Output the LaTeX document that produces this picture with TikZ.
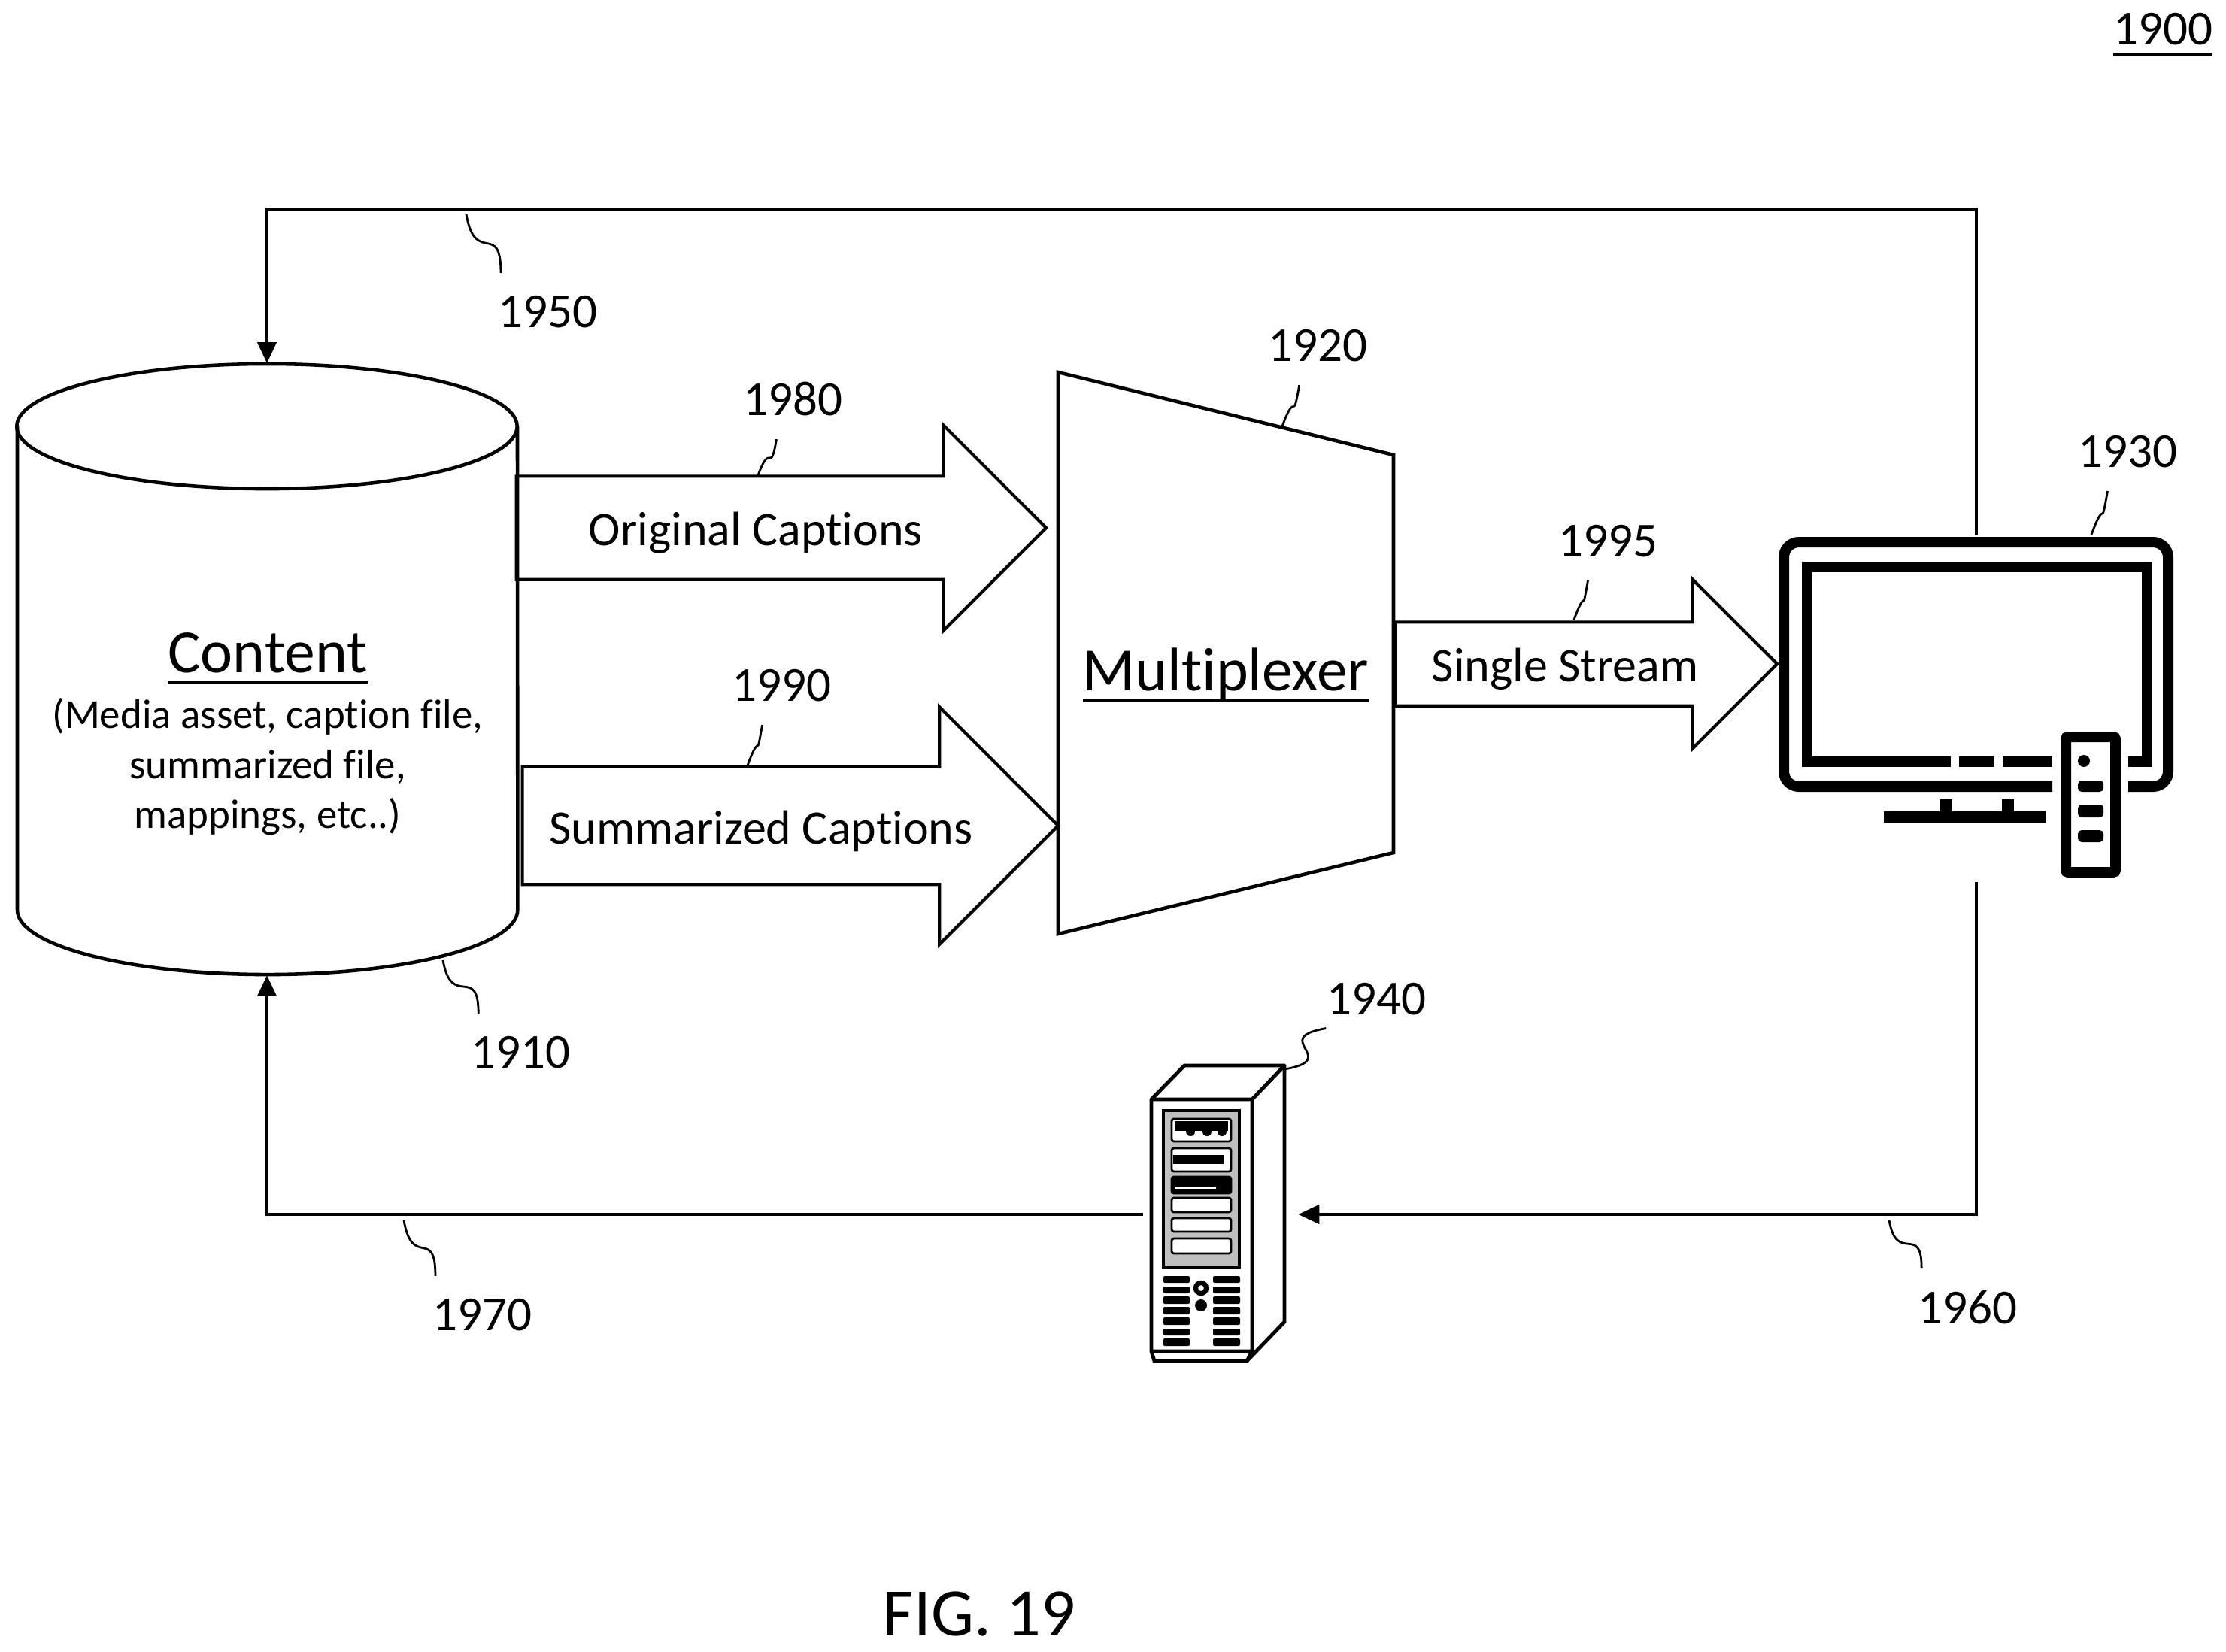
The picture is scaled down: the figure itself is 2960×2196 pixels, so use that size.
\documentclass[tikz,border=0pt]{standalone}
\usepackage{fontspec}
\setmainfont[Ligatures=NoCommon]{Carlito}
\newcommand{\ultxt}[1]{\setbox0=\hbox{#1}\dp0=0pt \vtop{\box0\kern 3pt\hrule height 1.2pt}}
\usetikzlibrary{shapes.arrows,arrows.meta}

\tikzset{
    conn/.style={line width=1.3pt},
    lead/.style={line width=.8pt},
    blockarrow/.style={single arrow,draw,line width=1.2pt,inner xsep=0pt,anchor=tip},
    tag/.style={font=\fontsize{18.5}{22}\selectfont,inner xsep=0pt,inner ysep=.3cm},
    captxt/.style={font=\fontsize{18.2}{22}\selectfont,inner sep=0pt},
    headtxt/.style={font=\fontsize{23.2}{27}\selectfont,inner sep=0pt},
    tvline/.style={line width=.14cm},
    vent/.style={fill=black,rounded corners=.02cm},
    slot/.style={draw,line width=.8pt,fill=white,rounded corners=.03cm},
}

\begin{document}
\begin{tikzpicture}[x=.01cm,y=-.01cm,>={Triangle[length=.28cm,width=.25cm]}]
    \useasboundingbox (0,0) rectangle (2960,2196);

    % store
    \node[minimum width=6.65cm,minimum height=8.12cm,inner sep=0pt] (content) at (355,890) {};
    \draw[conn] (355,567) ellipse[x radius=3.325cm,y radius=.83cm];
    \draw[conn] (23,567) -- (23,1210) arc[start angle=180,end angle=360,x radius=3.325cm,y radius=.86cm] -- (688,567);
    \node[headtxt] (content_lbl) at (356,875) {\ultxt{Content}};
    \node[captxt,align=center,font=\fontsize{15.6}{18.9}\selectfont] (content_txt) at (356,1020) {(Media asset, caption file,\\summarized file,\\mappings, etc..)};

    % multiplexer
    \coordinate (mux_a) at (1407,495);
    \coordinate (mux_b) at (1853,605);
    \coordinate (mux_c) at (1853,1134);
    \coordinate (mux_d) at (1407,1242);
    \draw[conn] (mux_a) -- (mux_b) -- (mux_c) -- (mux_d) -- cycle;
    \node[headtxt] (mux_lbl) at (1630,898) {\ultxt{Multiplexer}};

    % block arrows
    \node[blockarrow,minimum height=7.04cm,inner ysep=.665cm,single arrow head extend=.68cm] (orig) at (1394,702) {};
    \node[captxt] (orig_txt) at (1005,709) {Original Captions};
    \node[blockarrow,minimum height=7.12cm,inner ysep=.76cm,single arrow head extend=.795cm] (summ) at (1410,1098) {};
    \node[captxt] (summ_txt) at (1012,1105) {Summarized Captions};
    \node[blockarrow,minimum height=5.08cm,inner ysep=.535cm,single arrow head extend=.565cm] (single) at (2366,883) {};
    \node[captxt] (single_txt) at (2081,890) {Single Stream};

    % television
    \node[minimum width=5.25cm,minimum height=3.40cm,inner sep=0pt] (tv) at (2628,883) {};
    \draw[tvline,rounded corners=.2cm] (2729,1046) -- (2372,1046) -- (2372,721) -- (2883,721) -- (2883,1046) -- (2830,1046);
    \draw[tvline] (2403,1013) -- (2403,754) -- (2855,754) -- (2855,1013) -- (2830,1013);
    \draw[tvline] (2396,1013) -- (2594,1013) (2605,1013) -- (2652,1013) (2663,1013) -- (2729,1013);
    \fill (2505,1079) rectangle (2720,1094);
    \fill (2580,1063) rectangle (2596,1079);
    \fill (2662,1063) rectangle (2678,1079);
    \draw[line width=.14cm,rounded corners=.03cm,fill=white] (2747,980) rectangle (2813,1160);
    \fill (2771,1012) circle (8);
    \fill[rounded corners=.05cm] (2763,1038) rectangle (2797,1053);
    \fill[rounded corners=.05cm] (2763,1070) rectangle (2797,1087);
    \fill[rounded corners=.05cm] (2763,1104) rectangle (2797,1120);
    \coordinate (tv_low) at (2628,1173);

    % server
    \node[minimum width=2.05cm,minimum height=3.90cm,inner sep=0pt] (srv) at (1623,1615) {};
    \draw[line width=1.4pt,line join=round] (1531,1462) -- (1575,1417) -- (1708,1417) -- (1665,1462) -- cycle;
    \draw[line width=1.4pt] (1708,1417) -- (1708,1758) -- (1658,1810) -- (1535,1810) -- (1531,1797) -- (1531,1462);
    \draw[line width=1.4pt] (1665,1462) -- (1665,1797) -- (1531,1797) (1665,1797) -- (1658,1810);
    \draw[line width=1.2pt,fill=gray!50] (1547,1477) rectangle (1648,1685);
    \draw[slot] (1558,1488) rectangle (1637,1518);
    \fill (1562,1491) rectangle (1633,1504);
    \fill (1583,1505) circle (6) (1605,1505) circle (6) (1625,1505) circle (6);
    \draw[slot] (1558,1527) rectangle (1637,1558);
    \fill (1560,1536) rectangle (1627,1548);
    \draw[slot,fill=black] (1558,1565) rectangle (1637,1587);
    \fill[white] (1562,1578) rectangle (1617,1581);
    \draw[slot] (1558,1593) rectangle (1637,1612);
    \draw[slot] (1558,1620) rectangle (1637,1638);
    \draw[slot] (1558,1647) rectangle (1637,1667);
    \fill[vent] (1547,1697) rectangle (1582,1706) (1547,1711) rectangle (1582,1720)
        (1547,1724) rectangle (1582,1734) (1547,1738) rectangle (1582,1748)
        (1547,1752) rectangle (1582,1762) (1547,1767) rectangle (1582,1776)
        (1547,1780) rectangle (1582,1790);
    \fill[vent] (1613,1697) rectangle (1649,1706) (1613,1711) rectangle (1649,1720)
        (1613,1724) rectangle (1649,1734) (1613,1738) rectangle (1649,1748)
        (1613,1752) rectangle (1649,1762) (1613,1767) rectangle (1649,1776)
        (1613,1780) rectangle (1649,1790);
    \draw[line width=1.8pt] (1597,1713) circle (7);
    \fill (1597,1736) circle (8);

    % connectors
    \coordinate (top_corner) at (355,278);
    \draw[conn,->] (tv.north) |- (top_corner) -- (content.north);
    \draw[conn,->] (tv_low) |- (srv.east);
    \draw[conn,->] (srv.west) -| (content.south);

    % reference numerals
    \node[tag] (l_1900) at (2876,46) {\ultxt{1900}};
    \node[tag] (l_1950) at (728,415) {1950};
    \node[tag] (l_1980) at (1054,531) {1980};
    \node[tag] (l_1920) at (1752,460) {1920};
    \node[tag] (l_1930) at (2829,601) {1930};
    \node[tag] (l_1995) at (2138,720) {1995};
    \node[tag] (l_1990) at (1039,912) {1990};
    \node[tag] (l_1910) at (692,1400) {1910};
    \node[tag] (l_1940) at (1830,1329) {1940};
    \node[tag] (l_1970) at (641,1749) {1970};
    \node[tag] (l_1960) at (2616,1739) {1960};
    \node[captxt,font=\fontsize{25.7}{30}\selectfont] (fig) at (1302,2146) {FIG. 19};

    \coordinate (c_1950) at (620,285);
    \coordinate (c_1980) at (1008,632);
    \coordinate (c_1920) at (1705,567);
    \coordinate (c_1930) at (2781,711);
    \coordinate (c_1995) at (2093,824);
    \coordinate (c_1990) at (994,1018);
    \coordinate (c_1910) at (589,1277);
    \coordinate (c_1940) at (1708,1422);
    \coordinate (c_1970) at (537,1623);
    \coordinate (c_1960) at (2512,1623);
    \draw[lead] (c_1950) to[out=-80,in=90,looseness=2] (l_1950.140);
    \draw[lead] (c_1980) to[out=70,in=-100,looseness=2.4] (l_1980.-112);
    \draw[lead] (c_1920) to[out=70,in=-100,looseness=2.4] (l_1920.-115);
    \draw[lead] (c_1930) to[out=70,in=-100,looseness=2.4] (l_1930.-117);
    \draw[lead] (c_1995) to[out=70,in=-100,looseness=2.4] (l_1995.-117);
    \draw[lead] (c_1990) to[out=70,in=-100,looseness=2.4] (l_1990.-116);
    \draw[lead] (c_1910) to[out=-80,in=90,looseness=2] (l_1910.137);
    \draw[lead] (c_1940) to[out=10,in=-170,looseness=2.6] (l_1940.-150);
    \draw[lead] (c_1970) to[out=-80,in=90,looseness=2] (l_1970.140);
    \draw[lead] (c_1960) to[out=-80,in=90,looseness=2] (l_1960.139);
\end{tikzpicture}
\end{document}
